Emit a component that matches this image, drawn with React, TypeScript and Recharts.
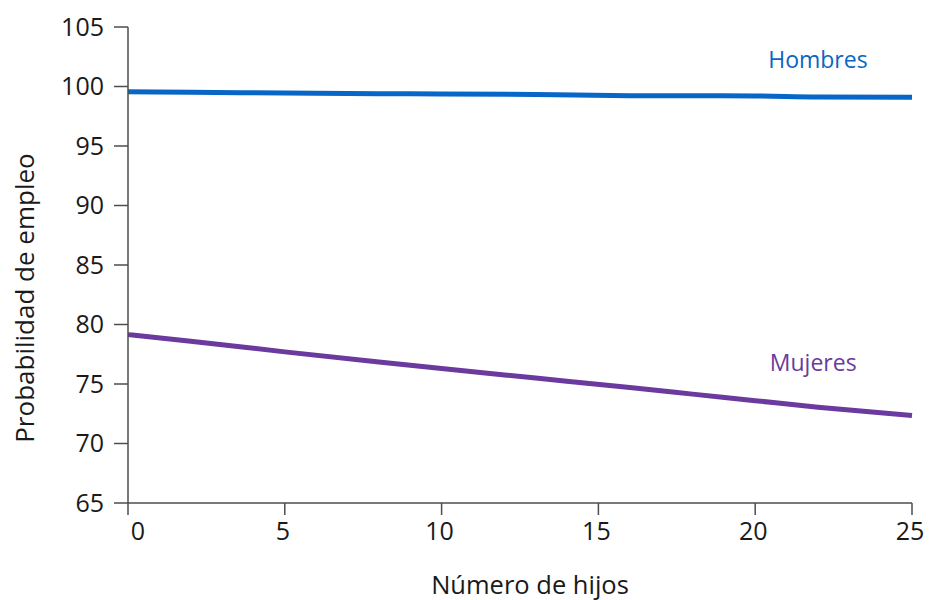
import { LineChart, Line, XAxis, YAxis, ReferenceDot, Label } from "recharts"

const hijos = [0, 2, 5, 8, 10, 13, 16, 18, 20, 22, 25]
const hombres = [99.55, 99.52, 99.45, 99.4, 99.38, 99.33, 99.23, 99.22, 99.2, 99.12, 99.1]
const mujeres = [79.15, 78.6, 77.7, 76.85, 76.3, 75.5, 74.7, 74.15, 73.6, 73.05, 72.35]
const xTicks = [0, 5, 10, 15, 20, 25]
const yTicks = [65, 70, 75, 80, 85, 90, 95, 100, 105]

const data = hijos.map((h, i) => ({ hijos: h, hombres: hombres[i], mujeres: mujeres[i] }))

const FONT = "'Open Sans', 'Noto Sans', sans-serif"
const AXIS = "#4d4d4d"
const TEXT = "#1a1a1a"
const BLUE = "#0866c6"
const PURPLE = "#6a3a9e"

function XTick(props: any) {
  const { x, y, payload } = props
  // the 0 label sits a bit right of its tick in the original
  const dx = payload.value === 0 ? 10 : -2
  return (
    <text x={x + dx} y={y} dy={19} textAnchor="middle" fill={TEXT} fontSize={25} fontFamily={FONT}>
      {payload.value}
    </text>
  )
}

export default function App() {
  return (
    <div style={{ position: "absolute", left: 0, top: 0, background: "#fff" }}>
      <LineChart width={930} height={600} data={data} margin={{ top: 27, right: 18, bottom: 67, left: 0 }}>
        <XAxis
          dataKey="hijos"
          type="number"
          domain={[0, 25]}
          ticks={xTicks}
          interval={0}
          stroke={AXIS}
          strokeWidth={1.5}
          tickSize={12}
          tickMargin={6}
          tick={<XTick />}
        >
          <Label
            value="Número de hijos"
            position="bottom"
            offset={43}
            dx={10}
            style={{ fill: TEXT, fontSize: 25.5, fontFamily: FONT }}
          />
        </XAxis>
        <YAxis
          type="number"
          domain={[65, 105]}
          ticks={yTicks}
          interval={0}
          width={128}
          stroke={AXIS}
          strokeWidth={1.5}
          tickSize={14}
          tickMargin={10}
          tick={{ fill: TEXT, fontSize: 25, fontFamily: FONT }}
        >
          <Label
            content={({ viewBox }: any) => {
              const cx = viewBox.x + 24
              const cy = viewBox.y + viewBox.height / 2 + 33
              return (
                <text
                  x={cx}
                  y={cy}
                  transform={`rotate(-90, ${cx}, ${cy})`}
                  textAnchor="middle"
                  dominantBaseline="central"
                  fill={TEXT}
                  fontSize={26}
                  fontFamily={FONT}
                >
                  Probabilidad de empleo
                </text>
              )
            }}
          />
        </YAxis>
        <Line
          dataKey="hombres"
          type="monotone"
          stroke={BLUE}
          strokeWidth={5}
          dot={false}
          isAnimationActive={false}
        />
        <Line
          dataKey="mujeres"
          type="monotone"
          stroke={PURPLE}
          strokeWidth={5}
          dot={false}
          isAnimationActive={false}
        />
        <ReferenceDot x={22} y={102.2} r={0} fill="none" stroke="none" ifOverflow="visible">
          <Label value="Hombres" position="center" style={{ fill: BLUE, fontSize: 23, fontFamily: FONT }} />
        </ReferenceDot>
        <ReferenceDot x={21.85} y={76.8} r={0} fill="none" stroke="none" ifOverflow="visible">
          <Label value="Mujeres" position="center" style={{ fill: PURPLE, fontSize: 23, fontFamily: FONT }} />
        </ReferenceDot>
      </LineChart>
    </div>
  )
}
